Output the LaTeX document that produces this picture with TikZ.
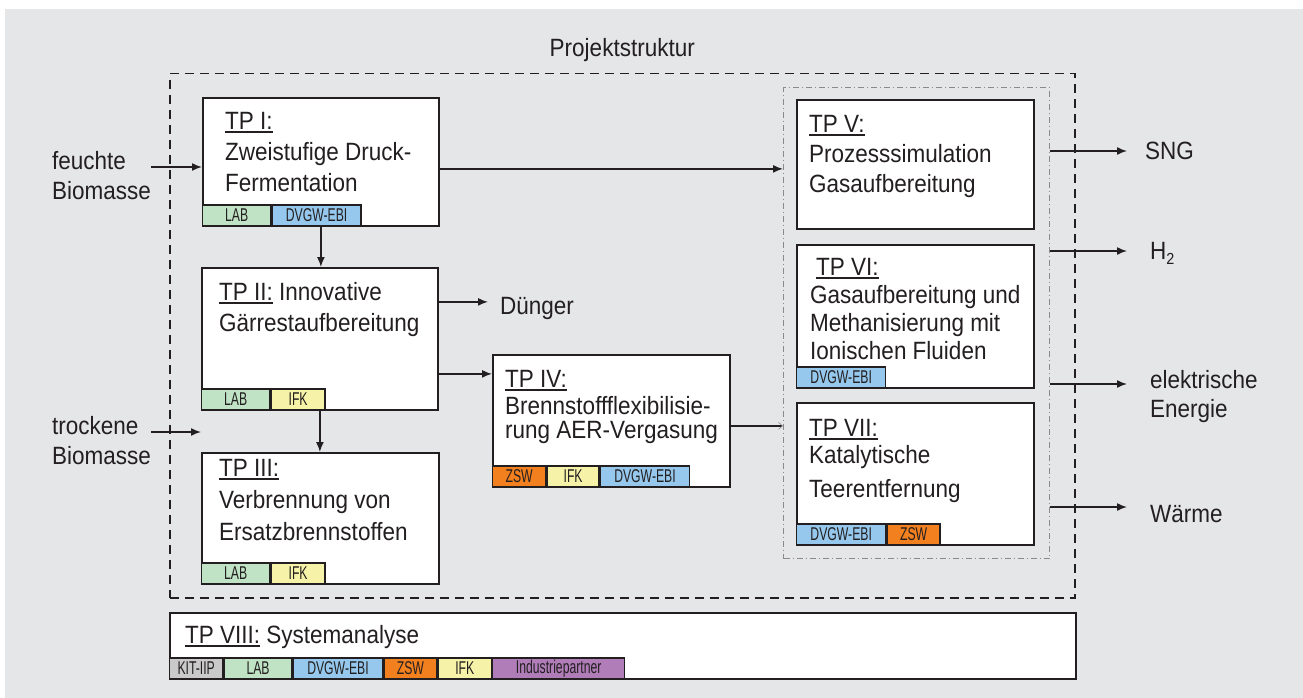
\documentclass[tikz,border=0pt]{standalone}
\usepackage{xcolor}
\usepackage{fontspec}
\setmainfont{Liberation Sans}[FakeStretch=0.9]
\newfontfamily\tagfont{Liberation Sans}[FakeStretch=0.66]
\usepackage{tikz}
\usetikzlibrary{positioning, arrows.meta}
\definecolor{bggray}{HTML}{E5E6E8}
\definecolor{linedark}{HTML}{231F20}
\definecolor{frameg}{HTML}{8A8A8A}
\definecolor{labgreen}{HTML}{BFE3C4}
\definecolor{dvgwblue}{HTML}{95C8EC}
\definecolor{ifkyellow}{HTML}{F6F3A9}
\definecolor{zsworange}{HTML}{F3801F}
\definecolor{kitgray}{HTML}{CACACA}
\definecolor{indpurple}{HTML}{B07DB8}
\newcommand{\tpul}[1]{\setbox0\hbox{#1}\rlap{\rule[-4pt]{\wd0}{2pt}}\box0\relax}
\tikzset{
  tpbox/.style={draw=linedark, line width=1.8pt, fill=white, inner sep=0pt, anchor=north west},
  tptext/.style={anchor=north west, inner sep=0pt, align=left, text=linedark},
  tag/.style={draw=linedark, line width=1.4pt, inner sep=0pt, minimum height=21pt,
              text=linedark, font=\tagfont\fontsize{18.5}{18.5}\selectfont},
  lbl/.style={inner ysep=0pt, inner xsep=0pt, align=left, text=linedark,
              font=\fontsize{25}{30}\selectfont},
  arr/.style={draw=linedark, line width=1.5pt, -{Latex[length=10pt,width=8pt]}},
}

\begin{document}
\begin{tikzpicture}[x=1pt, y=-1pt]
  \useasboundingbox (0,0) rectangle (1303,698);
  \fill[white] (0,0) rectangle (1303,698);
  \fill[bggray] (5,9) rectangle (1303,698);

  % frames
  \node[draw=linedark, line width=1.5pt, dash pattern=on 9pt off 6pt, inner sep=0pt,
        anchor=north west, minimum width=905pt, minimum height=524pt] (proj) at (169,73) {};
  \node[lbl, anchor=base] (title) at ([yshift=16pt]proj.north) {Projektstruktur};
  \node[draw=frameg, line width=1.2pt, dash pattern=on 6pt off 3pt on 1pt off 3pt, inner sep=0pt,
        anchor=north west, minimum width=266pt, minimum height=471pt] (grp) at (783,87) {};

  % boxes
  \node[tpbox, minimum width=236pt, minimum height=128pt] (tp1) at (202,97) {};
  \node[tpbox, minimum width=236pt, minimum height=142pt] (tp2) at (201,267) {};
  \node[tpbox, minimum width=237pt, minimum height=131pt] (tp3) at (201,452) {};
  \node[tpbox, minimum width=237pt, minimum height=132pt] (tp4) at (492,354) {};
  \node[tpbox, minimum width=237pt, minimum height=129pt] (tp5) at (796,99) {};
  \node[tpbox, minimum width=237pt, minimum height=143pt] (tp6) at (796,244) {};
  \node[tpbox, minimum width=237pt, minimum height=142pt] (tp7) at (796,402) {};
  \node[tpbox, minimum width=906pt, minimum height=66pt] (tp8) at (169,612) {};

  \node[tptext, font=\fontsize{25}{31}\selectfont] (tp1t) at (225,112)
    {\tpul{TP I:}\\Zweistufige Druck-\\Fermentation};
  \node[tptext, font=\fontsize{25}{31}\selectfont] (tp2t) at (219,282)
    {\tpul{TP II:} Innovative\\Gärrestaufbereitung};
  \node[tptext, font=\fontsize{25}{32}\selectfont] (tp3t) at (219,459)
    {\tpul{TP III:}\\Verbrennung von\\Ersatzbrennstoffen};
  \node[tptext, font=\fontsize{25}{24}\selectfont] (tp4t) at (505,370)
    {\tpul{TP IV:}\\[3pt]Brennstoffflexibilisie-\\rung AER-Vergasung};
  \node[tptext, font=\fontsize{25}{30}\selectfont] (tp5t) at (809,115)
    {\tpul{TP V:}\\Prozesssimulation\\Gasaufbereitung};
  \node[tptext, font=\fontsize{25}{28}\selectfont] (tp6t) at (810,258)
    {\hspace*{6pt}\tpul{TP VI:}\\Gasaufbereitung und\\Methanisierung mit\\Ionischen Fluiden};
  \node[tptext, font=\fontsize{25}{27}\selectfont] (tp7t) at (809,419)
    {\tpul{TP VII:}\\Katalytische\\[7pt]Teerentfernung};
  \node[tptext, anchor=base west, font=\fontsize{25}{30}\selectfont] (tp8t) at (185,643)
    {\tpul{TP VIII:} Systemanalyse};

  % partner tags
  \node[tag, fill=labgreen, minimum width=68pt, anchor=south west] (tp1a) at (tp1.south west) {LAB};
  \node[tag, fill=dvgwblue, minimum width=89pt, right=0pt of tp1a] (tp1b) {DVGW-EBI};
  \node[tag, fill=labgreen, minimum width=68pt, anchor=south west] (tp2a) at (tp2.south west) {LAB};
  \node[tag, fill=ifkyellow, minimum width=54pt, right=0pt of tp2a] (tp2b) {IFK};
  \node[tag, fill=labgreen, minimum width=68pt, anchor=south west] (tp3a) at (tp3.south west) {LAB};
  \node[tag, fill=ifkyellow, minimum width=54pt, right=0pt of tp3a] (tp3b) {IFK};
  \node[tag, fill=zsworange, minimum width=53pt, anchor=south west] (tp4a) at (tp4.south west) {ZSW};
  \node[tag, fill=ifkyellow, minimum width=52pt, right=0pt of tp4a] (tp4b) {IFK};
  \node[tag, fill=dvgwblue, minimum width=89pt, right=0pt of tp4b] (tp4c) {DVGW-EBI};
  \node[tag, fill=dvgwblue, minimum width=89pt, anchor=south west] (tp6a) at (tp6.south west) {DVGW-EBI};
  \node[tag, fill=dvgwblue, minimum width=89pt, anchor=south west] (tp7a) at (tp7.south west) {DVGW-EBI};
  \node[tag, fill=zsworange, minimum width=53pt, right=0pt of tp7a] (tp7b) {ZSW};
  \node[tag, fill=kitgray, minimum width=53pt, anchor=south west] (tp8a) at (tp8.south west) {KIT-IIP};
  \node[tag, fill=labgreen, minimum width=68pt, right=0pt of tp8a] (tp8b) {LAB};
  \node[tag, fill=dvgwblue, minimum width=89pt, right=0pt of tp8b] (tp8c) {DVGW-EBI};
  \node[tag, fill=zsworange, minimum width=53pt, right=0pt of tp8c] (tp8d) {ZSW};
  \node[tag, fill=ifkyellow, minimum width=53pt, right=0pt of tp8d] (tp8e) {IFK};
  \node[tag, fill=indpurple, minimum width=132pt, right=0pt of tp8e] (tp8f) {Industriepartner};

  % inputs and outputs
  \node[lbl, anchor=north west] (feucht) at (52,151) {feuchte\\Biomasse};
  \node[lbl, anchor=north west] (trock) at (52,416) {trockene\\Biomasse};
  \node[lbl, anchor=base west, inner xsep=12pt] (duenger) at (488,314) {Dünger};
  \node[lbl, anchor=west, inner xsep=18pt] (sng) at (1127,151) {SNG};
  \node[lbl, anchor=west, inner xsep=23pt, text depth=0pt] (wasserstoff) at (1127,251)
    {H\raisebox{-5pt}{\fontsize{16}{16}\selectfont 2}};
  \node[lbl, anchor=north west, inner xsep=23pt, font=\fontsize{25}{29}\selectfont] (elek) at (1127,370)
    {elektrische\\Energie};
  \node[lbl, anchor=base west, inner xsep=23pt] (waerme) at (1127,522) {Wärme};

  \coordinate (in1) at ([yshift=-16pt]feucht.north east);
  \coordinate (in2) at ([yshift=-16pt]trock.north east);
  \coordinate (c15) at ([yshift=-7pt]tp1.east);
  \coordinate (c2d) at ([yshift=37pt]tp2.east);
  \coordinate (c24) at ([yshift=-35pt]tp2.east);
  \coordinate (c4g) at ([yshift=-5pt]tp4.east);
  \coordinate (o3) at ([yshift=-14pt]elek.north west);
  \coordinate (o4) at ([yshift=15pt]waerme.base west);

  \draw[arr] (in1) -- (in1 -| tp1.west);
  \draw[arr] (in2) -- (in2 -| tp2.west);
  \draw[arr] (c15) -- (c15 -| grp.west);
  \draw[arr] (tp1.south) -- (tp1.south |- tp2.north);
  \draw[arr] (tp2.south) -- (tp2.south |- tp3.north);
  \draw[arr] (c2d) -- (c2d -| duenger.west);
  \draw[arr] (c24) -- (c24 -| tp4.west);
  \draw[draw=linedark, line width=1.3pt, -{Straight Barb[length=4pt,width=7pt,line width=0.6pt,color=frameg]}]
    (c4g) -- (c4g -| grp.west);
  \draw[arr] (sng.west -| grp.east) -- (sng.west);
  \draw[arr] (wasserstoff.west -| grp.east) -- (wasserstoff.west);
  \draw[arr] (o3 -| grp.east) -- (o3);
  \draw[arr] (o4 -| grp.east) -- (o4);
\end{tikzpicture}
\end{document}
